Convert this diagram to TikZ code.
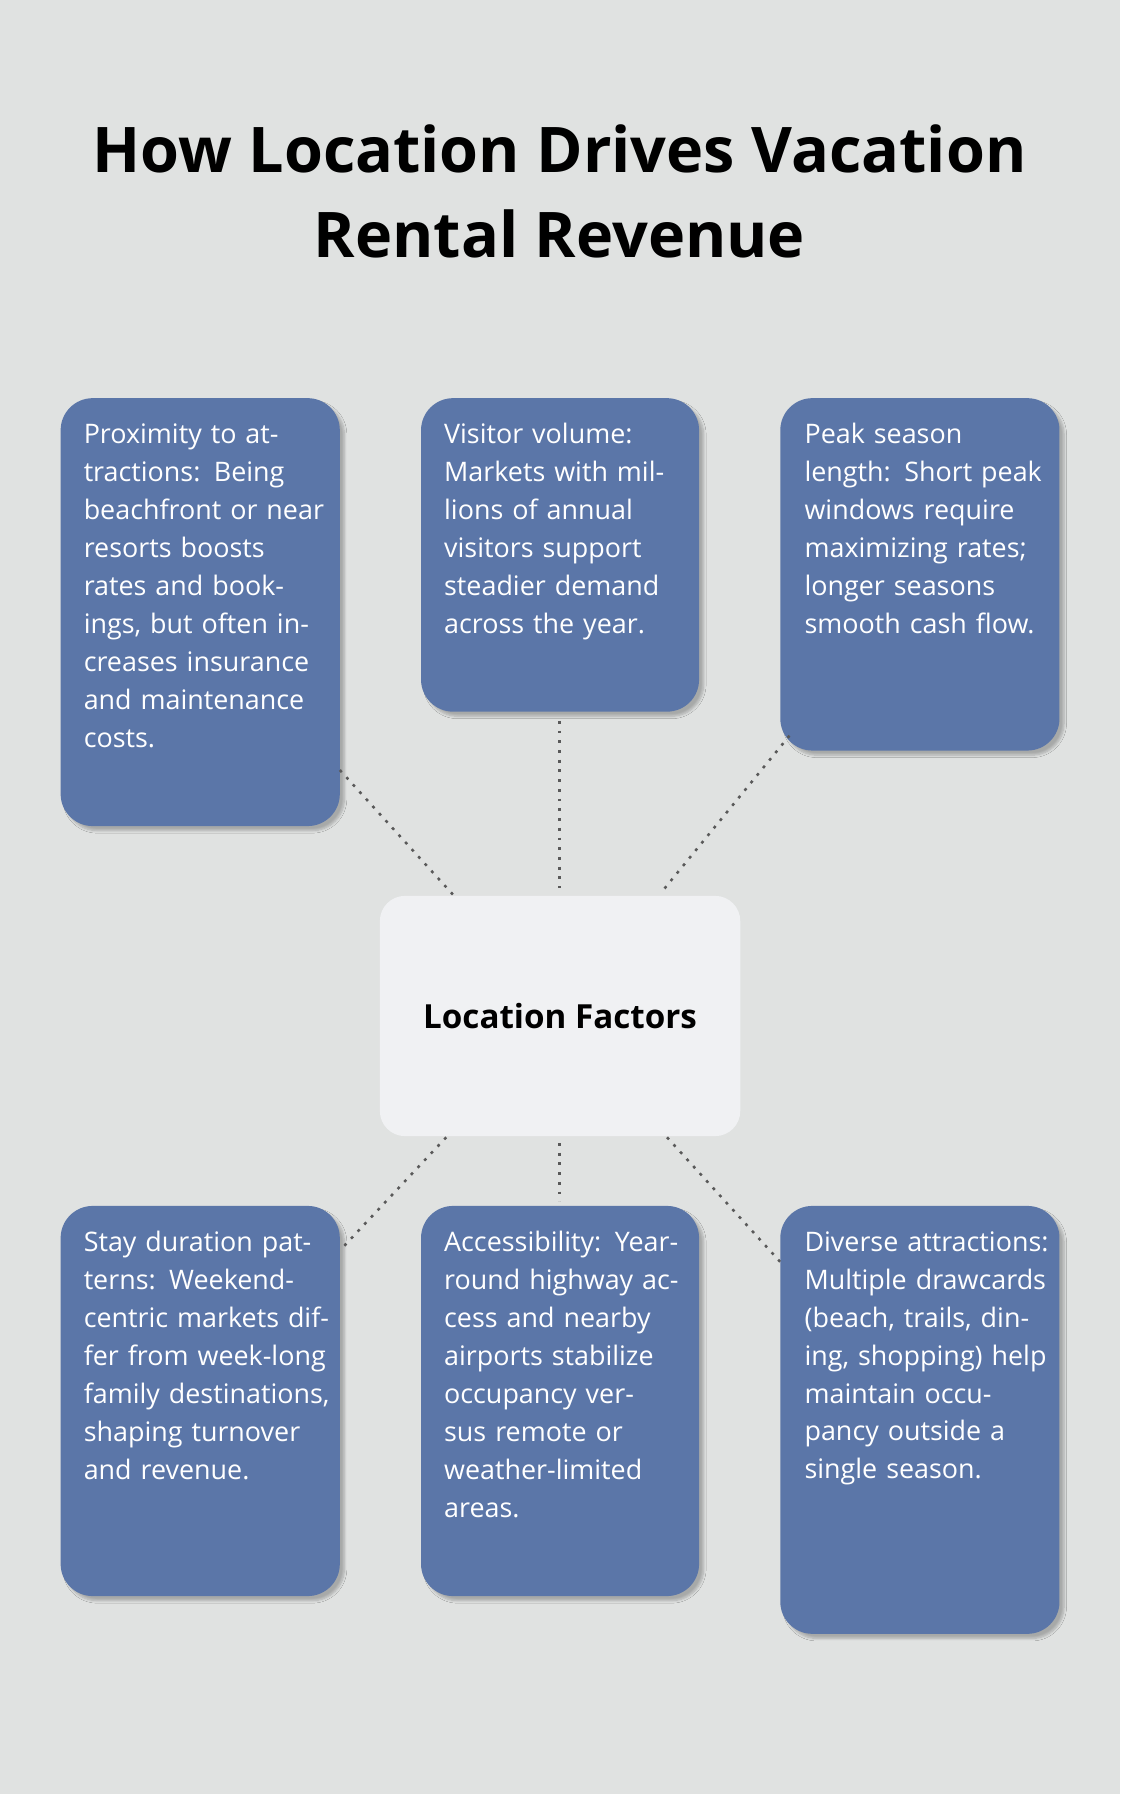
\documentclass[tikz,border=0pt]{standalone}
\usepackage{fontspec}
\setmainfont{Open Sans}
\usetikzlibrary{shadows.blur}
\definecolor{bg}{HTML}{E0E2E1}
\definecolor{boxc}{HTML}{5B76A8}
\definecolor{cen}{HTML}{F0F1F3}
\begin{document}
\begin{tikzpicture}[x=1pt,y=-1pt,
  card/.style={fill=boxc,rounded corners=28pt,blur shadow={shadow blur steps=6,shadow xshift=4pt,shadow yshift=-4pt,shadow opacity=25}},
  txt/.style={anchor=north west,inner sep=0pt,text=white,align=left,text width=215pt,font=\fontsize{23.5}{33.2}\selectfont},
  conn/.style={draw=black!65,line width=2.2pt,dash pattern=on 2.5pt off 6pt}]
\fill[bg] (0,0) rectangle (979,1568);
\useasboundingbox (0,0) rectangle (979,1568);
\node[font=\fontsize{55}{74}\selectfont\bfseries,align=center] (title) at (489,167) {How Location Drives Vacation\\Rental Revenue};
\path[card] (53,348) rectangle (297,722) coordinate[pos=0] (b1);
\path[card] (368,348) rectangle (611,622);
\path[card] (682,348) rectangle (926,656);
\path[card] (53,1054) rectangle (297,1395);
\path[card] (368,1054) rectangle (611,1395);
\path[card] (682,1054) rectangle (926,1428);
\path[fill=cen,rounded corners=22pt] (332,783) rectangle (647,993);
\node[font=\fontsize{29}{35}\selectfont\bfseries] (c) at (489.5,888) {Location Factors};
\node[txt] (t1) at (73,370) {Proximity to attractions: Being beachfront or near resorts boosts rates and bookings, but often increases insurance and maintenance costs.};
\node[txt] (t2) at (388,370) {Visitor volume: Markets with millions of annual visitors support steadier demand across the year.};
\node[txt] (t3) at (703,370) {Peak season length: Short peak windows require maximizing rates; longer seasons smooth cash flow.};
\node[txt] (t4) at (73,1076) {Stay duration patterns: Weekend-centric markets differ from week-long family destinations, shaping turnover and revenue.};
\node[txt] (t5) at (388,1076) {Accessibility: Year-round highway access and nearby airports stabilize occupancy versus remote or weather-limited areas.};
\node[txt] (t6) at (703,1076) {Diverse attractions: Multiple drawcards (beach, trails, dining, shopping) help maintain occupancy outside a single season.};
\coordinate (a1) at (297,673); \coordinate (e1) at (396,782);
\coordinate (a2) at (489,630); \coordinate (e2) at (489,776);
\coordinate (a3) at (690,643); \coordinate (e3) at (578,780);
\coordinate (a4) at (390,994); \coordinate (e4) at (297,1093);
\coordinate (a5) at (489,999); \coordinate (e5) at (489,1050);
\coordinate (a6) at (583,994); \coordinate (e6) at (682,1103);
\foreach \i in {1,...,6} \draw[conn] (a\i) -- (e\i);
\end{tikzpicture}
\end{document}
